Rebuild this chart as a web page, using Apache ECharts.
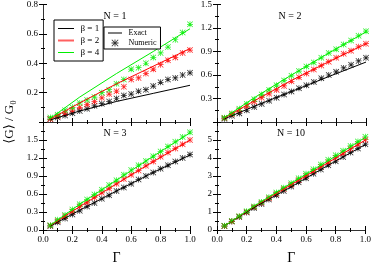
<!DOCTYPE html>
<html><head><meta charset="utf-8">
<script src="https://cdn.jsdelivr.net/npm/echarts@6/dist/echarts.min.js"></script>
<style>html,body{margin:0;padding:0;background:#fff}#c{width:374px;height:266px}</style>
</head><body><div id="c"></div>
<script>
// ---- data ----
const gamma = [0.05,0.10,0.15,0.20,0.25,0.30,0.35,0.40,0.45,0.50,0.55,0.60,0.65,0.70,0.75,0.80,0.85,0.90,0.95,1.00];
const lineGamma = [0.05,0.25,0.50,0.75,1.00];
const betaNames = ['β = 1','β = 2','β = 4'];
const panelTitles = ['N = 1','N = 2','N = 3','N = 10'];

// N = 1
const n1Exact1 = [0.015,0.075,0.14,0.195,0.25];
const n1Exact2 = [0.02,0.13,0.26,0.38,0.50];
const n1Exact4 = [0.025,0.17,0.33,0.48,0.635];
const n1Num1 = [0.02,0.03,0.045,0.06,0.075,0.09,0.11,0.125,0.14,0.16,0.18,0.19,0.21,0.22,0.245,0.27,0.29,0.30,0.32,0.335];
const n1Num2 = [0.02,0.04,0.06,0.08,0.10,0.12,0.14,0.165,0.19,0.21,0.24,0.29,0.30,0.33,0.36,0.39,0.42,0.44,0.47,0.49];
const n1Num4 = [0.03,0.05,0.08,0.10,0.13,0.15,0.17,0.20,0.22,0.26,0.29,0.36,0.37,0.40,0.44,0.47,0.51,0.56,0.61,0.665];
// N = 2
const n2Exact1 = [0.04,0.20,0.39,0.58,0.765];
const n2Exact2 = [0.05,0.27,0.53,0.77,1.00];
const n2Exact4 = [0.055,0.31,0.60,0.88,1.15];
const n2Num1 = [0.04,0.08,0.11,0.15,0.19,0.23,0.27,0.31,0.35,0.39,0.43,0.47,0.51,0.56,0.60,0.64,0.69,0.73,0.78,0.82];
const n2Num2 = [0.05,0.10,0.15,0.20,0.26,0.31,0.36,0.41,0.46,0.52,0.57,0.62,0.67,0.72,0.77,0.82,0.87,0.91,0.96,1.00];
const n2Num4 = [0.055,0.11,0.17,0.23,0.29,0.35,0.41,0.47,0.53,0.59,0.65,0.71,0.76,0.82,0.88,0.93,0.99,1.04,1.10,1.16];
// N = 3
const n3Exact1 = [0.065,0.33,0.65,0.96,1.25];
const n3Exact2 = [0.075,0.39,0.77,1.14,1.50];
const n3Exact4 = [0.08,0.43,0.83,1.23,1.62];
const n3Num1 = [0.065,0.13,0.19,0.26,0.32,0.39,0.45,0.52,0.58,0.65,0.71,0.77,0.84,0.90,0.96,1.02,1.08,1.14,1.20,1.26];
const n3Num2 = [0.075,0.15,0.23,0.31,0.39,0.46,0.54,0.62,0.69,0.77,0.85,0.92,0.99,1.07,1.14,1.22,1.29,1.36,1.43,1.50];
const n3Num4 = [0.08,0.17,0.25,0.34,0.43,0.51,0.59,0.67,0.75,0.83,0.92,1.00,1.08,1.15,1.23,1.31,1.39,1.47,1.55,1.63];
// N = 10
const n10Exact1 = [0.22,1.25,2.40,3.60,4.75];
const n10Exact2 = [0.22,1.30,2.52,3.75,5.00];
const n10Exact4 = [0.22,1.33,2.60,3.85,5.15];
const n10Num1 = [0.22,0.47,0.72,0.97,1.22,1.45,1.70,1.93,2.17,2.41,2.65,2.88,3.12,3.36,3.60,3.82,4.06,4.30,4.53,4.77];
const n10Num2 = [0.22,0.48,0.75,1.00,1.28,1.52,1.77,2.02,2.28,2.52,2.78,3.02,3.27,3.52,3.77,4.02,4.27,4.52,4.77,5.02];
const n10Num4 = [0.23,0.50,0.77,1.04,1.30,1.56,1.82,2.08,2.35,2.60,2.87,3.12,3.37,3.64,3.90,4.15,4.40,4.67,4.92,5.18];

// ---- build ----
const exactSets = [[n1Exact1,n1Exact2,n1Exact4],[n2Exact1,n2Exact2,n2Exact4],[n3Exact1,n3Exact2,n3Exact4],[n10Exact1,n10Exact2,n10Exact4]];
const numSets = [[n1Num1,n1Num2,n1Num4],[n2Num1,n2Num2,n2Num4],[n3Num1,n3Num2,n3Num4],[n10Num1,n10Num2,n10Num4]];
const colors = ['#000000','#ff0000','#00ee00'];
const FONT = '"Liberation Serif", "DejaVu Serif", serif';
const STAR = 'path://M0,4.4L10,4.4L10,5.6L0,5.6ZM4.4,0L5.6,0L5.6,10L4.4,10ZM0,0.85L0.85,0L10,9.15L9.15,10ZM9.15,0L10,0.85L0.85,10L0,9.15Z';
// legend line icons: a horizontal bar inside an invisible 20x10 frame (tiny corner specks set the bounds)
const LINE_ICON = 'path://M0,0L0.01,0L0,0.01ZM20,10L19.99,10L20,9.99ZM0,4.4L20,4.4L20,5.6L0,5.6Z';
const THICK_ICON = 'path://M0,0L0.01,0L0,0.01ZM20,10L19.99,10L20,9.99ZM0,3.6L20,3.6L20,6.4L0,6.4Z';

const grids = [
  {left:43, top:4, width:147, height:118},
  {left:217, top:4, width:149, height:118},
  {left:43, top:122, width:147, height:117},
  {left:217, top:122, width:149, height:117}
];
const yCfg = [
  {max:0.8, interval:0.2, dec:1, showMin:false, showMax:true},
  {max:1.5, interval:0.3, dec:1, showMin:false, showMax:true},
  {max:1.8, interval:0.3, dec:1, showMin:true, showMax:false},
  {max:6, interval:1, dec:0, showMin:true, showMax:false}
];
const axisLine = {show:true, lineStyle:{color:'#333', width:1}};
const tick = {show:true, inside:true, length:4, lineStyle:{color:'#000', width:1}};
const minor = {show:true, splitNumber:2, length:2, lineStyle:{color:'#000', width:1}};

const xAxes = [], yAxes = [], series = [];
grids.forEach((g,i)=>{
  const bottom = i>=2;
  xAxes.push({type:'value', gridIndex:i, min:0, max:1, interval:0.2, position:'bottom',
    axisLine, axisTick:tick, minorTick:minor, splitLine:{show:false},
    axisLabel:{show:bottom, fontFamily:FONT, fontSize:9, color:'#000', margin:5, formatter:v=>v.toFixed(1)},
    name: bottom ? 'Γ' : '', nameLocation:'middle', nameGap:21, nameTextStyle:{fontFamily:FONT, fontSize:14, color:'#000'}});
  xAxes.push({type:'value', gridIndex:i, min:0, max:1, interval:0.2, position:'top',
    axisLine, axisTick:tick, minorTick:minor, splitLine:{show:false}, axisLabel:{show:false}});
  const c = yCfg[i];
  yAxes.push({type:'value', gridIndex:i, min:0, max:c.max, interval:c.interval, position:'left',
    axisLine, axisTick:tick, minorTick:minor, splitLine:{show:false},
    axisLabel:{fontFamily:FONT, fontSize:9, color:'#000', margin:5, showMinLabel:c.showMin, showMaxLabel:c.showMax,
      formatter:v=>v.toFixed(c.dec)}});
  yAxes.push({type:'value', gridIndex:i, min:0, max:c.max, interval:c.interval, position:'right',
    axisLine, axisTick:tick, minorTick:minor, splitLine:{show:false}, axisLabel:{show:false}});
  for(let b=0;b<3;b++){
    series.push({type:'line', name:betaNames[b], xAxisIndex:2*i, yAxisIndex:2*i, symbol:'none',
      color:colors[b], lineStyle:{color:colors[b], width:1}, z:3, silent:true, animation:false,
      data: lineGamma.map((x,k)=>[x, exactSets[i][b][k]])});
    series.push({type:'scatter', name:'num'+i+b, xAxisIndex:2*i, yAxisIndex:2*i, symbol:STAR, symbolSize:6,
      itemStyle:{color:colors[b], opacity:0.85}, z:2, silent:true, animation:false,
      data: gamma.map((x,k)=>[x, numSets[i][b][k]])});
  }
});
series.push({type:'line', name:'Exact', xAxisIndex:0, yAxisIndex:0, symbol:'none', color:'#000', lineStyle:{color:'#000', width:1}, data:[]});
series.push({type:'scatter', name:'Numeric', xAxisIndex:0, yAxisIndex:0, symbol:STAR, symbolSize:7, itemStyle:{color:'#000'}, data:[]});

const tstyle = t => ({text:t, font:'10px '+FONT, fill:'#000', textAlign:'center', textVerticalAlign:'middle'});
const graphic = [
  {type:'text', x:115, y:16, style:tstyle(panelTitles[0])},
  {type:'text', x:290, y:16, style:tstyle(panelTitles[1])},
  {type:'text', x:115, y:133, style:tstyle(panelTitles[2])},
  {type:'text', x:291, y:133, style:tstyle(panelTitles[3])},
  {type:'text', x:10, y:122, rotation:Math.PI/2, style:{text:'⟨G⟩ / G₀', font:'13px '+FONT, fill:'#000', textAlign:'center', textVerticalAlign:'middle'}}
];

const chart = echarts.init(document.getElementById('c'), null, {renderer:'canvas'});
chart.setOption({
  animation:false,
  backgroundColor:'#fff',
  grid: grids,
  xAxis: xAxes,
  yAxis: yAxes,
  series,
  graphic,
  legend:[
    {orient:'vertical', left:54, top:20, selectedMode:false, backgroundColor:'#fff', borderColor:'#000', borderWidth:1,
     padding:[4,4,4,4], itemWidth:19, itemHeight:8, itemGap:3,
     textStyle:{fontFamily:FONT, fontSize:9, color:'#000'},
     data:[{name:'β = 1', icon:LINE_ICON, itemStyle:{color:'#000'}},
           {name:'β = 2', icon:THICK_ICON, itemStyle:{color:'#ff6060'}},
           {name:'β = 4', icon:LINE_ICON, itemStyle:{color:'#00ee00'}}]},
    {orient:'vertical', left:104, top:27, selectedMode:false, backgroundColor:'#fff', borderColor:'#000', borderWidth:1,
     padding:[2,4,2,4], itemWidth:17, itemHeight:7, itemGap:2,
     textStyle:{fontFamily:FONT, fontSize:8, color:'#000'},
     data:[{name:'Exact', icon:LINE_ICON, itemStyle:{color:'#000'}},{name:'Numeric', icon:STAR, itemStyle:{color:'#000'}}]}
  ]
});
</script></body></html>
